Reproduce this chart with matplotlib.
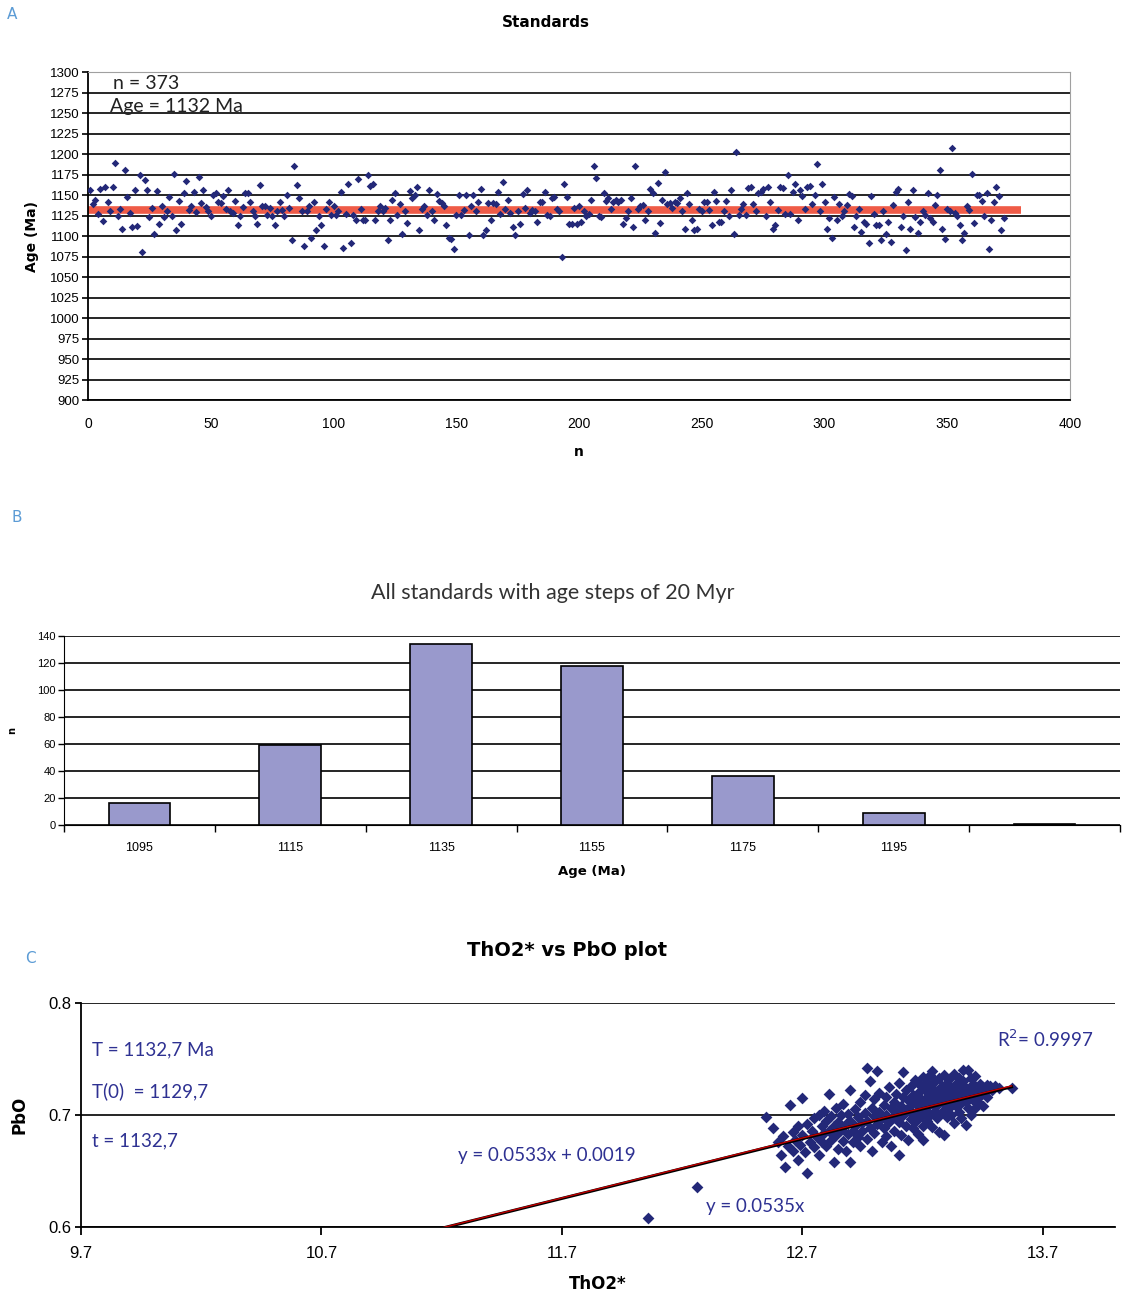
import numpy as np
import matplotlib
matplotlib.use("Agg")
from matplotlib import pyplot as plt

# ---- panel A: standard ages, one point per analysis n = 1..373
ages = [
    1156, 1139, 1144, 1127, 1157, 1118, 1160, 1142, 1131, 1160,
    1189, 1124, 1133, 1108, 1180, 1147, 1128, 1111, 1156, 1112,
    1174, 1080, 1168, 1156, 1123, 1134, 1103, 1155, 1115, 1136,
    1123, 1130, 1148, 1124, 1176, 1107, 1143, 1115, 1152, 1167,
    1132, 1137, 1154, 1129, 1172, 1140, 1156, 1135, 1131, 1124,
    1150, 1152, 1142, 1140, 1149, 1133, 1156, 1130, 1128, 1143,
    1113, 1124, 1135, 1152, 1153, 1141, 1131, 1124, 1115, 1162,
    1137, 1137, 1126, 1134, 1124, 1113, 1130, 1142, 1132, 1124,
    1150, 1134, 1095, 1185, 1162, 1146, 1131, 1088, 1130, 1136,
    1097, 1141, 1107, 1124, 1113, 1088, 1133, 1142, 1126, 1136,
    1126, 1131, 1154, 1085, 1127, 1164, 1092, 1126, 1120, 1170,
    1133, 1120, 1120, 1175, 1161, 1164, 1119, 1131, 1137, 1130,
    1134, 1095, 1119, 1144, 1152, 1126, 1139, 1102, 1130, 1116,
    1155, 1146, 1150, 1160, 1107, 1133, 1136, 1126, 1156, 1131,
    1119, 1151, 1143, 1140, 1136, 1113, 1098, 1096, 1084, 1126,
    1150, 1126, 1132, 1150, 1101, 1136, 1150, 1131, 1142, 1157,
    1101, 1107, 1140, 1120, 1140, 1139, 1154, 1127, 1166, 1133,
    1144, 1128, 1111, 1101, 1131, 1115, 1151, 1134, 1156, 1128,
    1132, 1130, 1117, 1142, 1141, 1154, 1126, 1124, 1146, 1148,
    1133, 1131, 1075, 1163, 1148, 1115, 1115, 1134, 1115, 1137,
    1117, 1131, 1124, 1127, 1144, 1185, 1171, 1124, 1123, 1152,
    1143, 1146, 1133, 1142, 1144, 1142, 1144, 1115, 1122, 1131,
    1146, 1111, 1185, 1133, 1136, 1138, 1119, 1131, 1157, 1152,
    1104, 1165, 1116, 1144, 1178, 1139, 1140, 1134, 1141, 1140,
    1146, 1131, 1109, 1153, 1139, 1120, 1107, 1108, 1133, 1130,
    1142, 1142, 1132, 1113, 1154, 1143, 1117, 1117, 1131, 1143,
    1124, 1156, 1102, 1203, 1126, 1133, 1139, 1126, 1158, 1160,
    1139, 1131, 1152, 1154, 1157, 1124, 1160, 1142, 1109, 1113,
    1132, 1160, 1158, 1127, 1174, 1127, 1154, 1164, 1119, 1156,
    1149, 1133, 1160, 1161, 1139, 1150, 1188, 1131, 1164, 1142,
    1109, 1122, 1097, 1147, 1119, 1139, 1124, 1131, 1138, 1151,
    1149, 1111, 1124, 1133, 1105, 1117, 1115, 1091, 1149, 1127,
    1113, 1113, 1095, 1131, 1103, 1117, 1093, 1138, 1154, 1157,
    1111, 1124, 1083, 1142, 1108, 1156, 1123, 1104, 1117, 1131,
    1126, 1152, 1122, 1117, 1138, 1150, 1181, 1108, 1096, 1133,
    1130, 1207, 1128, 1124, 1113, 1095, 1104, 1137, 1132, 1176,
    1116, 1150, 1150, 1143, 1124, 1153, 1084, 1119, 1141, 1160,
    1149, 1107, 1122,
]
mean_age = 1132

# ---- panel B: histogram in 20 Myr steps
bins = ["1095", "1115", "1135", "1155", "1175", "1195", ""]
counts = [16, 59, 134, 118, 36, 9, 1]

# ---- panel C: ThO2* vs PbO
tho2 = [
    12.55, 12.58, 12.60, 12.61, 12.62, 12.63, 12.64, 12.65, 12.66, 12.66,
    12.67, 12.68, 12.68, 12.69, 12.70, 12.70, 12.71, 12.72, 12.72, 12.73,
    12.74, 12.75, 12.75, 12.76, 12.77, 12.77, 12.78, 12.78, 12.79, 12.79,
    12.80, 12.80, 12.81, 12.81, 12.82, 12.82, 12.83, 12.83, 12.84, 12.84,
    12.85, 12.85, 12.86, 12.86, 12.87, 12.87, 12.88, 12.88, 12.89, 12.89,
    12.90, 12.90, 12.90, 12.91, 12.91,
    12.92, 12.92, 12.93, 12.93, 12.94, 12.94, 12.95, 12.95, 12.96, 12.96,
    12.97, 12.97, 12.97, 12.98, 12.98, 12.99, 12.99, 13.00, 13.00, 13.00,
    13.01, 13.01, 13.02, 13.02, 13.03, 13.03, 13.04, 13.04, 13.05, 13.05,
    13.05, 13.06, 13.06, 13.07, 13.07, 13.08, 13.08, 13.08, 13.09, 13.09,
    13.10, 13.10, 13.10, 13.11, 13.11, 13.12, 13.12, 13.12, 13.13, 13.13,
    13.14, 13.14, 13.14, 13.15, 13.15, 13.15, 13.16, 13.16, 13.16, 13.17,
    13.17, 13.17, 13.18, 13.18, 13.18, 13.19, 13.19, 13.19, 13.20, 13.20,
    13.20, 13.20, 13.21, 13.21, 13.21, 13.22, 13.22, 13.22, 13.23, 13.23,
    13.23, 13.24, 13.24, 13.24, 13.24, 13.25, 13.25, 13.25, 13.26, 13.26,
    13.26, 13.27, 13.27, 13.27, 13.28, 13.28, 13.28, 13.29, 13.29, 13.29,
    13.30, 13.30, 13.30, 13.30, 13.31, 13.31, 13.31, 13.32, 13.32, 13.32,
    13.33, 13.33, 13.33, 13.34, 13.34, 13.34, 13.35, 13.35, 13.35, 13.36,
    13.36, 13.36, 13.37, 13.37, 13.37, 13.38, 13.38, 13.38, 13.39, 13.39,
    13.39, 13.40, 13.40, 13.40, 13.41, 13.41, 13.42, 13.42, 13.42, 13.43,
    13.43, 13.44, 13.44, 13.45, 13.45, 13.46, 13.47, 13.47, 13.48, 13.49,
    13.50, 13.52, 13.57,
    12.06, 12.26,
]
pbo = [
    0.698, 0.688, 0.676, 0.664, 0.681, 0.654, 0.672, 0.709, 0.685, 0.668,
    0.678, 0.660, 0.690, 0.673, 0.715, 0.682, 0.667, 0.648, 0.692, 0.676,
    0.686, 0.697, 0.671, 0.680, 0.664, 0.700, 0.690, 0.676, 0.684, 0.704,
    0.672, 0.695, 0.719, 0.686, 0.678, 0.699, 0.658, 0.690, 0.706, 0.682,
    0.694, 0.670, 0.700, 0.687, 0.677, 0.710, 0.692, 0.668, 0.683, 0.701,
    0.658, 0.695, 0.722, 0.686, 0.676,
    0.705, 0.690, 0.680, 0.698, 0.712, 0.672, 0.693, 0.686, 0.702, 0.718,
    0.742, 0.679, 0.695, 0.730, 0.688, 0.706, 0.668, 0.699, 0.714, 0.684,
    0.739, 0.692, 0.703, 0.720, 0.676, 0.697, 0.709, 0.688, 0.716, 0.700,
    0.681, 0.694, 0.725, 0.706, 0.672, 0.712, 0.698, 0.686, 0.719, 0.703,
    0.664, 0.694, 0.729, 0.708, 0.682, 0.738, 0.700, 0.716, 0.690, 0.722,
    0.705, 0.713, 0.678, 0.696, 0.726, 0.709, 0.718, 0.700, 0.688, 0.731,
    0.711, 0.694, 0.720, 0.704, 0.683, 0.715, 0.727, 0.698, 0.734, 0.709,
    0.690, 0.678, 0.722, 0.702, 0.714, 0.729, 0.695, 0.707, 0.718, 0.736,
    0.700, 0.739, 0.711, 0.689, 0.724, 0.704, 0.716, 0.730, 0.697, 0.721,
    0.709, 0.733, 0.713, 0.685, 0.726, 0.703, 0.718, 0.682, 0.736, 0.710,
    0.722, 0.698, 0.729, 0.714, 0.706, 0.732, 0.719, 0.724, 0.700, 0.711,
    0.737, 0.716, 0.693, 0.728, 0.708, 0.720, 0.733, 0.703, 0.715, 0.725,
    0.711, 0.697, 0.740, 0.719, 0.730, 0.691, 0.712, 0.724, 0.740, 0.706,
    0.717, 0.733, 0.700, 0.722, 0.713, 0.728, 0.706, 0.720, 0.735, 0.722,
    0.712, 0.728, 0.717, 0.725, 0.708, 0.721, 0.727, 0.716, 0.726, 0.722,
    0.726, 0.724, 0.724,
    0.608, 0.636,
]
fit_slope, fit_icpt = 0.0533, 0.0019
fit0_slope = 0.0535
fit_range = [11.2, 13.57]

navy = "#232878"
txt_blue = "#2e3192"
lbl_blue = "#5b9bd5"
narrow = ["Liberation Sans Narrow", "Liberation Sans", "DejaVu Sans"]
calib = ["Lato", "DejaVu Sans"]

fig = plt.figure(figsize=(11.23, 12.95), dpi=100)

# ================= A
ax = fig.add_axes([0.0784, 0.6911, 0.8744, 0.2533])
n = np.arange(1, len(ages) + 1)
ax.set_xlim(0, 400)
ax.set_ylim(900, 1300)
ax.set_yticks(np.arange(900, 1301, 25))
ax.set_xticks(np.arange(0, 401, 50))
ax.yaxis.grid(True, color="black", lw=1.2)
ax.set_axisbelow(True)
ax.plot([0, 380], [mean_age, mean_age], color="#ef5b47", lw=5.5, zorder=2,
        solid_capstyle="butt")
ax.scatter(n, ages, marker="D", s=15, color=navy, zorder=3, linewidths=0)
for s in ["top", "right"]:
    ax.spines[s].set_color("#a0a0a0")
ax.spines["left"].set_linewidth(1.3)
ax.spines["bottom"].set_linewidth(1.3)
ax.tick_params(axis="y", length=4, width=1.2, pad=2, labelsize=9.5)
ax.tick_params(axis="x", length=0, pad=12, labelsize=10)
for lab in ax.get_xticklabels() + ax.get_yticklabels():
    lab.set_family(narrow)
ax.set_xlabel("n", fontsize=10, fontweight="bold", labelpad=10)
ax.set_ylabel("Age (Ma)", fontsize=10, fontweight="bold", labelpad=8)
ax.text(10, 1296, "n = 373", fontsize=14, family=calib, va="top", color="#222222")
ax.text(9, 1268, "Age = 1132 Ma", fontsize=14, family=calib, va="top", color="#222222")
fig.text(0.486, 0.983, "Standards", fontsize=11, fontweight="bold", ha="center", va="center")
fig.text(0.011, 0.989, "A", fontsize=11, color=lbl_blue, ha="center", va="center")

# ================= B
bx = fig.add_axes([0.0570, 0.3629, 0.9403, 0.1459])
pos = np.arange(len(bins))
bx.bar(pos, counts, width=0.41, color="#9999cc", edgecolor="black", lw=1.2, zorder=3)
bx.set_xlim(-0.5, len(bins) - 0.5)
bx.set_ylim(0, 140)
bx.set_yticks(np.arange(0, 141, 20))
bx.yaxis.grid(True, color="black", lw=1.2)
bx.set_axisbelow(True)
bx.set_xticks(pos)
bx.set_xticklabels(bins)
bx.set_xticks(np.arange(-0.5, len(bins), 1), minor=True)
bx.tick_params(axis="x", which="major", length=0, pad=12, labelsize=9)
bx.tick_params(axis="x", which="minor", length=5, width=1)
bx.tick_params(axis="y", length=4, width=1, pad=2, labelsize=8)
for s in ["top", "right"]:
    bx.spines[s].set_visible(False)
for lab in bx.get_xticklabels() + bx.get_yticklabels():
    lab.set_family(narrow)
bx.set_xlabel("Age (Ma)", fontsize=9.5, fontweight="bold", labelpad=8)
bx.set_ylabel("n", fontsize=7, fontweight="bold", labelpad=14)
fig.text(0.4925, 0.542, "All standards with age steps of 20 Myr", fontsize=15.5,
         family=calib, ha="center", va="center", color="#333333")
fig.text(0.015, 0.600, "B", fontsize=11, color=lbl_blue, ha="center", va="center")

# ================= C
cx = fig.add_axes([0.0721, 0.0525, 0.9207, 0.1730])
cx.set_xlim(9.7, 14.0)
cx.set_ylim(0.6, 0.8)
cx.set_xticks([9.7, 10.7, 11.7, 12.7, 13.7])
cx.set_xticklabels(["9.7", "10.7", "11.7", "12.7", "13.7"])
cx.set_yticks([0.6, 0.7, 0.8])
cx.yaxis.grid(True, color="black", lw=1.2)
cx.set_axisbelow(True)
cx.scatter(tho2, pbo, marker="D", s=36, color=navy, zorder=3, linewidths=0)
xf = np.array(fit_range)
cx.plot(xf, fit_slope * xf + fit_icpt, color="black", lw=2.2, zorder=4)
cx.plot(xf, fit0_slope * xf, color="#c00000", lw=1, zorder=5)
for s in ["top", "right"]:
    cx.spines[s].set_visible(False)
cx.spines["left"].set_linewidth(1.3)
cx.spines["bottom"].set_linewidth(1.3)
cx.tick_params(axis="x", length=6, width=1.3, pad=8, labelsize=12)
cx.tick_params(axis="y", length=4, width=1.3, pad=3, labelsize=12)
for lab in cx.get_xticklabels() + cx.get_yticklabels():
    lab.set_family(narrow)
cx.set_xlabel("ThO2*", fontsize=12, fontweight="bold", labelpad=10)
cx.set_ylabel("PbO", fontsize=12, fontweight="bold", labelpad=14)
kw = dict(fontsize=13.5, family=calib, color=txt_blue, va="center")
cx.text(9.745, 0.7585, "T = 1132,7 Ma", **kw)
cx.text(9.745, 0.7215, "T(0)  = 1129,7", **kw)
cx.text(9.745, 0.677, "t = 1132,7", **kw)
cx.text(11.27, 0.664, "y = 0.0533x + 0.0019", **kw)
cx.text(12.30, 0.618, "y = 0.0535x", **kw)
cx.text(13.51, 0.7675, "R$^2$= 0.9997", **kw)
fig.text(0.505, 0.266, "ThO2* vs PbO plot", fontsize=14, fontweight="bold",
         ha="center", va="center")
fig.text(0.027, 0.260, "C", fontsize=11, color=lbl_blue, ha="center", va="center")

fig.savefig("out.png", dpi=100)
